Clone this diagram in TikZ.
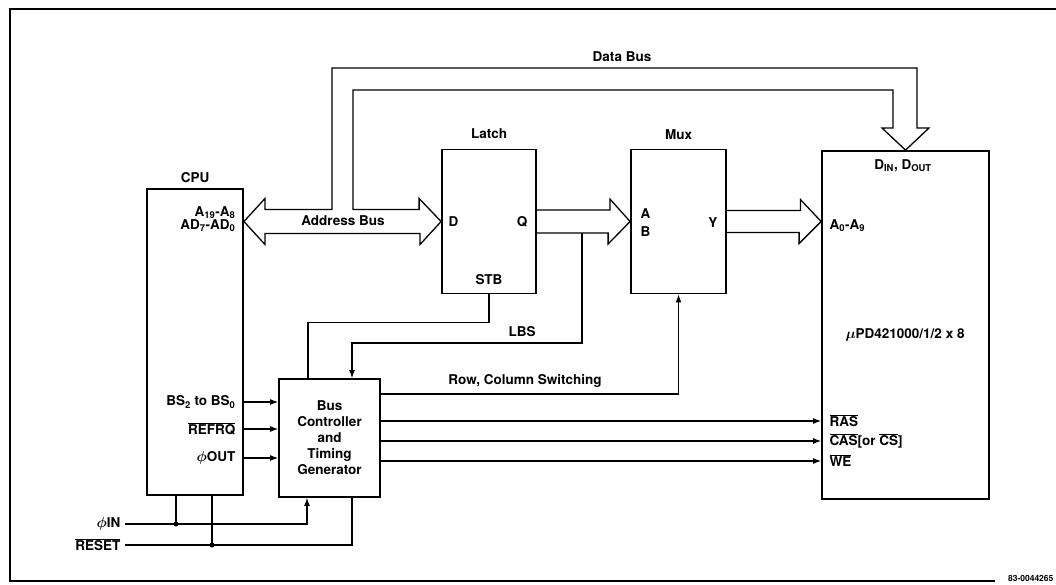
\documentclass[tikz,border=0pt]{standalone}
\usepackage{fontspec}
\setmainfont{TeX Gyre Heros}
\usepackage{tikz}
\usetikzlibrary{arrows.meta}
\newcommand{\barsig}[1]{\ensuremath{\overline{\mbox{#1}}}}
\newcommand{\phisym}{{\boldmath$\phi$}}

\begin{document}
\begin{tikzpicture}[x=1pt, y=-1pt, line width=1.2pt,
  every node/.style={font=\fontsize{13.5}{15}\selectfont\bfseries, inner sep=2pt},
  blk/.style={draw, line width=1.8pt, inner sep=0pt},
  bus/.style={line width=1.3pt, line join=miter},
  sig/.style={-{Latex[length=8pt,width=6pt]}}]
  \useasboundingbox (0,0) rectangle (1056,585);
  % frame
  \draw[line width=1.4pt] (1056,9) -- (10,9) -- (10,581) -- (995,581);
  \node (docno) at (1056,578) [anchor=east, font=\fontsize{8.5}{10}\selectfont\bfseries] {83-0044265};

  % blocks
  \node (cpu) at (195,342) [blk, minimum width=96pt, minimum height=306pt] {};
  \node (latch) at (489,221.5) [blk, minimum width=94pt, minimum height=144pt] {};
  \node (mux) at (678.5,221.5) [blk, minimum width=95pt, minimum height=144pt] {};
  \node (mem) at (905.5,325) [blk, minimum width=167pt, minimum height=348pt] {};
  \node (bc) at (329.5,438) [blk, minimum width=101pt, minimum height=118pt, align=center,
    font=\fontsize{13.5}{16}\selectfont\bfseries] {Bus\\Controller\\and\\Timing\\Generator};

  \node (cpulbl) at (cpu.north) [anchor=south, above=3pt] {CPU};
  \node (latchlbl) at (latch.north) [anchor=south, above=7pt] {Latch};
  \node (muxlbl) at (mux.north) [anchor=south, above=6pt] {Mux};

  % pins
  \node (apins) at (238,219) [anchor=east, align=right, font=\fontsize{13.5}{13}\selectfont\bfseries]
    {A\textsubscript{19}-A\textsubscript{8}\\AD\textsubscript{7}-AD\textsubscript{0}};
  \node (bs) at (238,402) [anchor=east] {BS\textsubscript{2} to BS\textsubscript{0}};
  \node (refrq) at (238,429) [anchor=east] {\barsig{REFRQ}};
  \node (phout) at (238,458) [anchor=east] {\phisym OUT};
  \node (dpin) at (446,221.5) [anchor=west] {D};
  \node (qpin) at (530,221.5) [anchor=east] {Q};
  \node (stb) at (489,280) {STB};
  \node (apin) at (638,214) [anchor=west] {A};
  \node (bpin) at (638,232) [anchor=west] {B};
  \node (ypin) at (720,223) [anchor=east] {Y};
  \node (dio) at (903,166) {D\textsubscript{IN}, D\textsubscript{OUT}};
  \node (adr) at (827,226) [anchor=west] {A\textsubscript{0}-A\textsubscript{9}};
  \node (chip) at (905,335) {{\boldmath$\mu$}PD421000/1/2 x 8};
  \node (ras) at (827,421) [anchor=west] {\barsig{RAS}};
  \node (cas) at (827,441) [anchor=west] {\barsig{CAS}[or \barsig{CS}]};
  \node (we) at (827,461) [anchor=west] {\barsig{WE}};

  % bus labels
  \node (dbus) at (622,57) {Data Bus};
  \node (abus) at (343,221) {Address Bus};
  \node (lbs) at (522,332) {LBS};
  \node (rcs) at (525,381) {Row, Column Switching};
  \node (phin) at (125,524) [anchor=east, inner sep=4pt] {\phisym IN};
  \node (reset) at (125,545) [anchor=east, inner sep=4pt] {\barsig{RESET}};

  % address / data bus
  \draw[bus] (latch.west) -- ++(-22,-23) -- ++(0,11) -- (353,209.5) -- (353,90) -- (893,90)
    -- (893,128) -- (882,128) -- (mem.north) -- (929,128) -- (917,128) -- (917,68) -- (332,68)
    -- (332,209.5) -- (265,209.5) -- (265,198.5) -- (cpu.east |- latch.west) -- (265,244.5)
    -- (265,233.5) -- (420,233.5) -- (420,244.5) -- cycle;
  % latch to mux
  \draw[bus] ([yshift=11.5pt]latch.east) -- ++(73,0) -- ++(0,-11) -- (mux.west)
    -- ++(-22,22.5) -- ++(0,-11) -- ([yshift=-11.5pt]latch.east);
  % mux to memory
  \draw[bus] ([yshift=11pt]mux.east) -- ++(73.5,0) -- ++(0,-11) -- (mux.east -| mem.west)
    -- ++(-22,22) -- ++(0,-11) -- ([yshift=-11pt]mux.east);

  % control lines
  \coordinate (tap) at (582,233);
  \draw (latch.south) -- ++(0,28) -| ([xshift=-21.5pt]bc.north);
  \draw[sig] (tap) -- ++(0,110) -| ([xshift=22.5pt]bc.north);
  \draw[sig] ([yshift=44pt]bc.east) -| (mux.south);
  \draw[sig] (cpu.east |- bs) -- (bc.west |- bs);
  \draw[sig] (cpu.east |- refrq) -- (bc.west |- refrq);
  \draw[sig] (cpu.east |- phout) -- (bc.west |- phout);
  \draw[sig] (bc.east |- ras) -- (mem.west |- ras);
  \draw[sig] (bc.east |- cas) -- (mem.west |- cas);
  \draw[sig] (bc.east |- we) -- (mem.west |- we);

  % clock and reset
  \draw[sig] (phin.east) -| ([xshift=-22.5pt]bc.south);
  \draw (reset.east) -| ([xshift=22.5pt]bc.south);
  \draw ([xshift=-19pt]cpu.south) -- ([xshift=-19pt]cpu.south |- phin);
  \draw ([xshift=17pt]cpu.south) -- ([xshift=17pt]cpu.south |- reset);
  \fill ([xshift=-19pt]cpu.south |- phin) circle (2.5pt);
  \fill ([xshift=17pt]cpu.south |- reset) circle (2.5pt);
\end{tikzpicture}
\end{document}
